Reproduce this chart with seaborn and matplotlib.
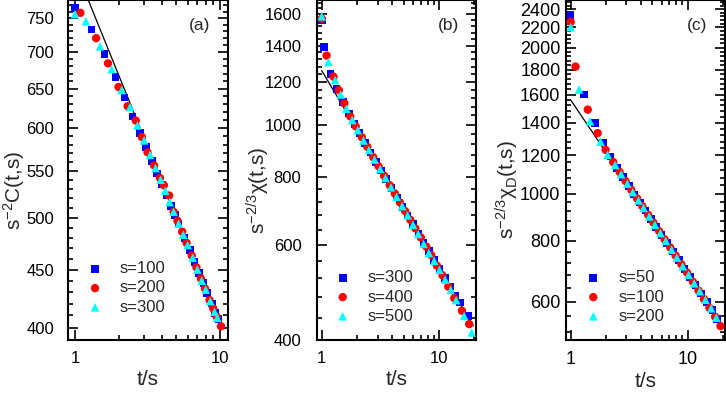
import numpy as np
import pandas as pd
import matplotlib
matplotlib.use("Agg")
import matplotlib.pyplot as plt
import seaborn as sns
from matplotlib.ticker import FixedLocator, FuncFormatter, NullFormatter

# ---------------- data ----------------
# panel (a): s^-2 C(t,s)
a_t100 = [1.0, 1.3, 1.6, 1.9, 2.2, 2.5, 2.8, 3.1, 3.4, 3.7, 4.0, 4.3, 4.6, 4.9, 5.2,
          5.7, 6.2, 6.7, 7.2, 7.7, 8.2, 8.8, 9.3, 9.8]
a_y100 = [765, 733, 697, 665, 638, 614, 594, 577, 561, 547, 535, 523, 512, 503, 494,
          480, 468, 457, 447, 438, 429, 420, 412, 407]
a_t200 = [1.09, 1.4, 1.69, 2.0, 2.31, 2.63, 2.9, 3.17, 3.52, 3.86, 4.11, 4.47, 4.8, 5.1,
          5.5, 5.9, 6.4, 6.9, 7.4, 7.9, 8.5, 9.0, 9.5, 10.2]
a_y200 = [758, 720, 684, 652, 627, 609, 589, 571, 556, 542, 534, 523, 506, 497,
          486, 475, 463, 452, 442, 433, 423, 416, 409, 401]
a_t300 = [1.0, 1.19, 1.49, 1.79, 2.1, 2.4, 2.7, 3.0, 3.3, 3.6, 3.9, 4.2, 4.5, 4.8,
          5.2, 5.6, 6.0, 6.5, 7.0, 7.5, 8.0, 8.6, 9.2, 9.6]
a_y300 = [756, 745, 708, 676, 648, 626, 603, 585, 568, 553, 540, 528, 516, 506,
          494, 483, 473, 461, 450, 440, 432, 422, 413, 408]
a_fit_t = [1.235, 10.2]
a_fit_y = [778, 400]

# panel (b): s^-2/3 chi(t,s)
b_t300 = [1.0, 1.05, 1.19, 1.34, 1.51, 1.7, 1.9, 2.1, 2.35, 2.6, 2.9, 3.2, 3.55, 3.95,
          4.4, 4.9, 5.4, 6.0, 6.7, 7.4, 8.2, 9.1, 10.1, 11.2, 12.4, 13.8, 15.2, 17.6]
b_y300 = [1559, 1393, 1241, 1165, 1102, 1048, 1003, 964, 924, 889, 854, 823, 793, 763,
          733, 705, 680, 655, 629, 606, 584, 562, 541, 521, 502, 483, 469, 443]
b_t400 = [1.0, 1.10, 1.26, 1.40, 1.56, 1.75, 1.95, 2.2, 2.45, 2.75, 3.05, 3.4, 3.8, 4.2,
          4.65, 5.15, 5.7, 6.3, 7.0, 7.8, 8.6, 9.6, 10.7, 12.0, 13.5, 15.7, 18.1]
b_y400 = [1570, 1342, 1227, 1158, 1095, 1036, 993, 948, 910, 871, 838, 805, 773, 746,
          718, 692, 667, 643, 619, 595, 574, 549, 527, 502, 478, 453, 428]
b_t500 = [1.0, 1.14, 1.30, 1.45, 1.62, 1.82, 2.03, 2.27, 2.53, 2.82, 3.15, 3.5, 3.9,
          4.35, 4.85, 5.4, 6.0, 6.65, 7.4, 8.2, 9.1, 10.1, 11.3, 12.6, 14.0, 16.4, 19.0]
b_y500 = [1586, 1306, 1209, 1137, 1070, 1020, 977, 935, 898, 862, 828, 797, 766,
          736, 707, 680, 653, 628, 602, 579, 560, 539, 517, 495, 474, 443, 413]
b_fit_t = [1.0, 19.6]
b_fit_y = [1259, 425]

# panel (c): s^-2/3 chi_D(t,s)
c_t50 = [1.0, 1.3, 1.61, 1.9, 2.19, 2.5, 2.8, 3.15, 3.5, 3.9, 4.35, 4.85, 5.4, 6.0,
         6.7, 7.5, 8.4, 9.4, 10.5, 11.7, 13.1, 14.6, 16.3, 17.9]
c_y50 = [2332, 1602, 1398, 1275, 1193, 1130, 1083, 1037, 997, 960, 923, 888, 854, 823,
         791, 760, 730, 701, 674, 648, 623, 599, 576, 552]
c_t100 = [1.0, 1.1, 1.4, 1.7, 1.99, 2.31, 2.62, 2.95, 3.3, 3.7, 4.1, 4.6, 5.1, 5.7,
          6.35, 7.1, 7.9, 8.85, 9.9, 11.1, 12.4, 13.8, 15.4, 17.2, 19.1]
c_y100 = [2258, 1827, 1490, 1333, 1231, 1162, 1109, 1062, 1019, 978, 943, 905, 872, 838,
          806, 775, 746, 716, 688, 659, 632, 607, 582, 558, 534]
c_t200 = [1.0, 1.18, 1.46, 1.8, 2.07, 2.4, 2.7, 3.05, 3.4, 3.8, 4.2, 4.7, 5.25, 5.85,
          6.5, 7.3, 8.1, 9.1, 10.2, 11.4, 12.7, 14.2, 15.9, 17.6]
c_y200 = [2202, 1639, 1410, 1280, 1203, 1146, 1097, 1049, 1008, 969, 935, 898, 863, 830,
          800, 767, 739, 709, 681, 654, 630, 605, 581, 556]
c_fit_t = [1.0, 19.4]
c_fit_y = [1560, 541]

# tick labels
a_yticks = [400, 450, 500, 550, 600, 650, 700, 750]
a_yminor = list(range(390, 780, 10))
b_yticks = [400, 600, 800, 1000, 1200, 1400, 1600]
b_yminor = list(range(400, 1720, 40))
c_yticks = [600, 800, 1000, 1200, 1400, 1600, 1800, 2000, 2200, 2400]
c_yminor = list(range(520, 2520, 40))
x_major = [1, 10]
x_minor = [2, 3, 4, 5, 6, 7, 8, 9, 20]

# ---------------- style ----------------
sns.set_style("ticks")
plt.rcParams["font.family"] = ["Liberation Sans", "DejaVu Sans"]
plt.rcParams["mathtext.fontset"] = "custom"
plt.rcParams["mathtext.rm"] = "Liberation Sans"
plt.rcParams["mathtext.it"] = "Liberation Sans:italic"
plt.rcParams["mathtext.bf"] = "Liberation Sans:bold"

BLUE, RED, CYAN = "#0000ff", "#ff0000", "#00ffff"

fig = plt.figure(figsize=(7.26, 3.93), dpi=100)
W, H = 726, 393

def make_ax(l, r, b=340, t=0):
    return fig.add_axes([l / W, 1 - b / H, (r - l) / W, (b - t) / H])

axes = [make_ax(68, 228), make_ax(316.7, 476), make_ax(566, 725)]

panels = [
    dict(series=[(a_t100, a_y100, "s=100"), (a_t200, a_y200, "s=200"), (a_t300, a_y300, "s=300")],
         fit=(a_fit_t, a_fit_y), xlim=(0.895, 11.4), ylim=(390, 778),
         yt=a_yticks, ym=a_yminor, ylabel=r"s$^{-2}$C(t,s)", tag="(a)",
         leg=(95, 268), lsize=12, ypad=10, ylx=14),
    dict(series=[(b_t300, b_y300, "s=300"), (b_t400, b_y400, "s=400"), (b_t500, b_y500, "s=500")],
         fit=(b_fit_t, b_fit_y), xlim=(0.906, 20.7), ylim=(400, 1700),
         yt=b_yticks, ym=b_yminor, ylabel=r"s$^{-2/3}$χ(t,s)", tag="(b)",
         leg=(342.7, 277), lsize=12, ypad=11, ylx=258),
    dict(series=[(c_t50, c_y50, "s=50"), (c_t100, c_y100, "s=100"), (c_t200, c_y200, "s=200")],
         fit=(c_fit_t, c_fit_y), xlim=(0.912, 20.9), ylim=(500, 2505),
         yt=c_yticks, ym=c_yminor, ylabel=r"s$^{-2/3}$χ$_{\mathrm{D}}$(t,s)", tag="(c)",
         leg=(593.3, 277), lsize=13, ypad=4, ylx=507),
]

markers = ["s", "o", "^"]
colors = [BLUE, RED, CYAN]
sizes = [30, 36, 38]

for ax, p in zip(axes, panels):
    ax.set_xscale("log")
    ax.set_yscale("log")
    for (tt, yy, lab), m, c, sz in zip(p["series"], markers, colors, sizes):
        df = pd.DataFrame({"t": tt, "y": yy})
        sns.scatterplot(data=df, x="t", y="y", ax=ax, marker=m, color=c, s=sz,
                        edgecolor="none", linewidth=0, label=lab, zorder=3)
    fdf = pd.DataFrame({"t": p["fit"][0], "y": p["fit"][1]})
    sns.lineplot(data=fdf, x="t", y="y", ax=ax, color="black", linewidth=0.9,
                 zorder=2, legend=False)
    ax.set_xlim(*p["xlim"])
    ax.set_ylim(*p["ylim"])
    ax.xaxis.set_major_locator(FixedLocator(x_major))
    ax.xaxis.set_minor_locator(FixedLocator(x_minor))
    ax.xaxis.set_major_formatter(FuncFormatter(lambda v, pos: f"{v:g}"))
    ax.xaxis.set_minor_formatter(NullFormatter())
    ax.yaxis.set_major_locator(FixedLocator(p["yt"]))
    ax.yaxis.set_minor_locator(FixedLocator(p["ym"]))
    ax.yaxis.set_major_formatter(FuncFormatter(lambda v, pos: f"{v:.0f}"))
    ax.yaxis.set_minor_formatter(NullFormatter())
    ax.tick_params(which="both", direction="in", top=True, right=True,
                   labelsize=p["lsize"], colors="black", width=1.2)
    ax.tick_params(which="major", length=7)
    ax.tick_params(which="minor", length=3.5)
    ax.tick_params(axis="x", which="major", pad=8)
    ax.tick_params(axis="y", which="major", pad=p["ypad"])
    for sp in ax.spines.values():
        sp.set_linewidth(1.5)
        sp.set_color("black")
    ax.set_xlabel("t/s", fontsize=15, labelpad=3)
    ax.set_ylabel(p["ylabel"], fontsize=15)
    ax.yaxis.set_label_coords(p["ylx"] / W, 1 - 190 / H, transform=fig.transFigure)
    ax.yaxis.label.set_verticalalignment("center")
    ax.text(0.825, 0.925, p["tag"], transform=ax.transAxes, fontsize=12.5,
            ha="center", va="center")
    lx, ly = p["leg"]
    ax.legend(loc="center left", frameon=False, fontsize=12,
              bbox_to_anchor=((lx - 10) / W, 1 - (ly + 20) / H),
              bbox_transform=fig.transFigure, borderaxespad=0, borderpad=0,
              handletextpad=0.9, labelspacing=0.25, handlelength=1.2,
              markerscale=1.0)

fig.savefig("out.png", dpi=100)
